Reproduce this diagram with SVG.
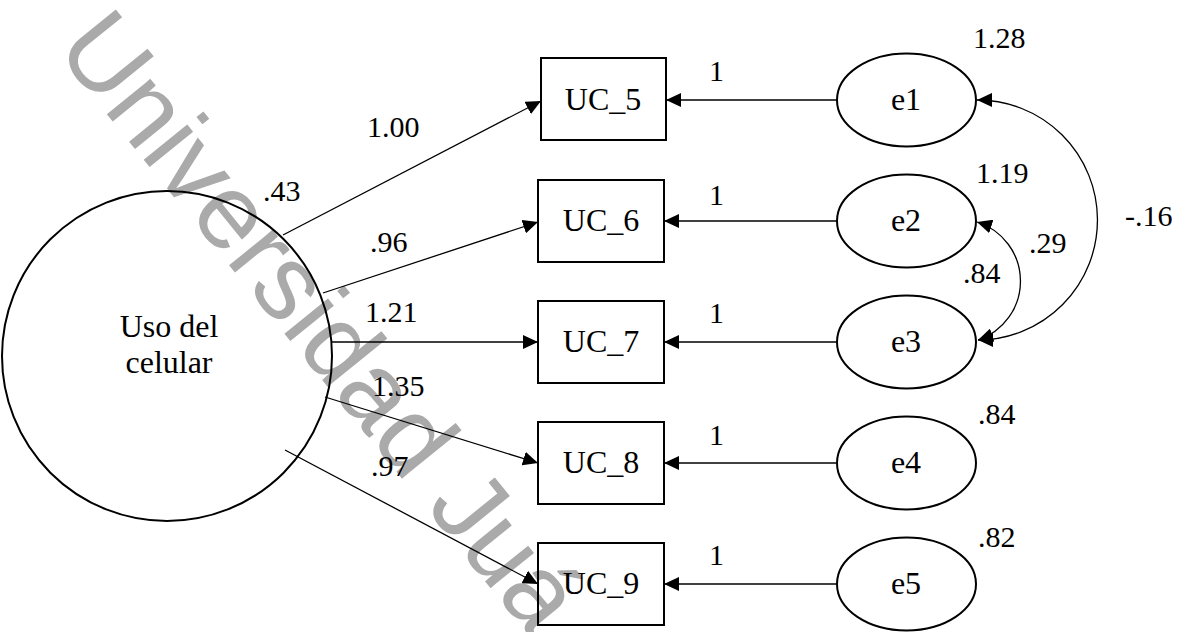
<svg xmlns="http://www.w3.org/2000/svg" width="1181" height="632" viewBox="0 0 1181 632">
<style>
text{font-family:"Liberation Serif","Times New Roman",serif;font-size:30px;fill:#000}
.c{text-anchor:middle;font-size:32px}
.n{fill:none;stroke:#000;stroke-width:2}
.l{fill:none;stroke:#000;stroke-width:1.3}
.wm{font-family:"Liberation Sans",Arial,sans-serif;font-size:106px;fill:#aaaaaa}
</style>
<defs>
<marker id="ah" viewBox="0 0 15 14" refX="15" refY="7" markerWidth="15" markerHeight="14" markerUnits="userSpaceOnUse" orient="auto-start-reverse">
<path d="M0,0 L15,7 L0,14 z" fill="#000"/>
</marker>
</defs>
<rect width="1181" height="632" fill="#fff"/>
<text class="wm" transform="translate(54,49) rotate(51)">Universidad Juá</text>
<g id="connectors">
<line class="l" x1="283" y1="235" x2="541" y2="101" marker-end="url(#ah)"/>
<line class="l" x1="323" y1="293" x2="538" y2="222" marker-end="url(#ah)"/>
<line class="l" x1="332" y1="342" x2="538" y2="342" marker-end="url(#ah)"/>
<line class="l" x1="325" y1="397" x2="538" y2="463" marker-end="url(#ah)"/>
<line class="l" x1="285" y1="450" x2="538" y2="584" marker-end="url(#ah)"/>
<line class="l" x1="837" y1="100" x2="666" y2="100" marker-end="url(#ah)"/>
<line class="l" x1="837" y1="221" x2="664" y2="221" marker-end="url(#ah)"/>
<line class="l" x1="837" y1="342" x2="664" y2="342" marker-end="url(#ah)"/>
<line class="l" x1="837" y1="463" x2="664" y2="463" marker-end="url(#ah)"/>
<line class="l" x1="837" y1="584" x2="664" y2="584" marker-end="url(#ah)"/>
<path class="l" d="M977,100 A120,120 0 0 1 978,340" marker-start="url(#ah)" marker-end="url(#ah)"/>
<path class="l" d="M977,222 A62,62 0 0 1 978,340" marker-start="url(#ah)" marker-end="url(#ah)"/>
<text x="367" y="137">1.00</text>
<text x="263" y="201">.43</text>
<text x="370" y="252">.96</text>
<text x="365" y="322">1.21</text>
<text x="372" y="396">1.35</text>
<text x="371" y="476">.97</text>
<text x="709" y="81">1</text>
<text x="709" y="205">1</text>
<text x="709" y="323">1</text>
<text x="709" y="445">1</text>
<text x="709" y="565">1</text>
<text x="1125" y="226">-.16</text>
<text x="1029" y="253">.29</text>
<text x="963" y="283">.84</text>
</g>
<g id="F1">
<ellipse class="n" cx="167" cy="356" rx="165" ry="165"/>
<text class="c" x="169" y="337">Uso del</text>
<text class="c" x="169" y="373">celular</text>
</g>
<g id="UC_5"><rect class="n" x="541" y="58" width="125" height="82"/><text class="c" x="603" y="110">UC_5</text></g>
<g id="UC_6"><rect class="n" x="538" y="180" width="126" height="82"/><text class="c" x="601" y="231">UC_6</text></g>
<g id="UC_7"><rect class="n" x="538" y="301" width="126" height="82"/><text class="c" x="601" y="352">UC_7</text></g>
<g id="UC_8"><rect class="n" x="538" y="422" width="126" height="82"/><text class="c" x="601" y="473">UC_8</text></g>
<g id="UC_9"><rect class="n" x="538" y="543" width="126" height="82"/><text class="c" x="601" y="594">UC_9</text></g>
<g id="e1"><ellipse class="n" cx="906.5" cy="100" rx="69.5" ry="46.5"/><text class="c" x="906" y="110">e1</text><text x="973" y="48">1.28</text></g>
<g id="e2"><ellipse class="n" cx="906.5" cy="221" rx="69.5" ry="46.5"/><text class="c" x="906" y="231">e2</text><text x="976" y="183">1.19</text></g>
<g id="e3"><ellipse class="n" cx="906.5" cy="342" rx="69.5" ry="46.5"/><text class="c" x="906" y="352">e3</text></g>
<g id="e4"><ellipse class="n" cx="906.5" cy="463" rx="69.5" ry="46.5"/><text class="c" x="906" y="473">e4</text><text x="978" y="424">.84</text></g>
<g id="e5"><ellipse class="n" cx="906.5" cy="584" rx="69.5" ry="46.5"/><text class="c" x="906" y="594">e5</text><text x="978" y="547">.82</text></g>
</svg>
